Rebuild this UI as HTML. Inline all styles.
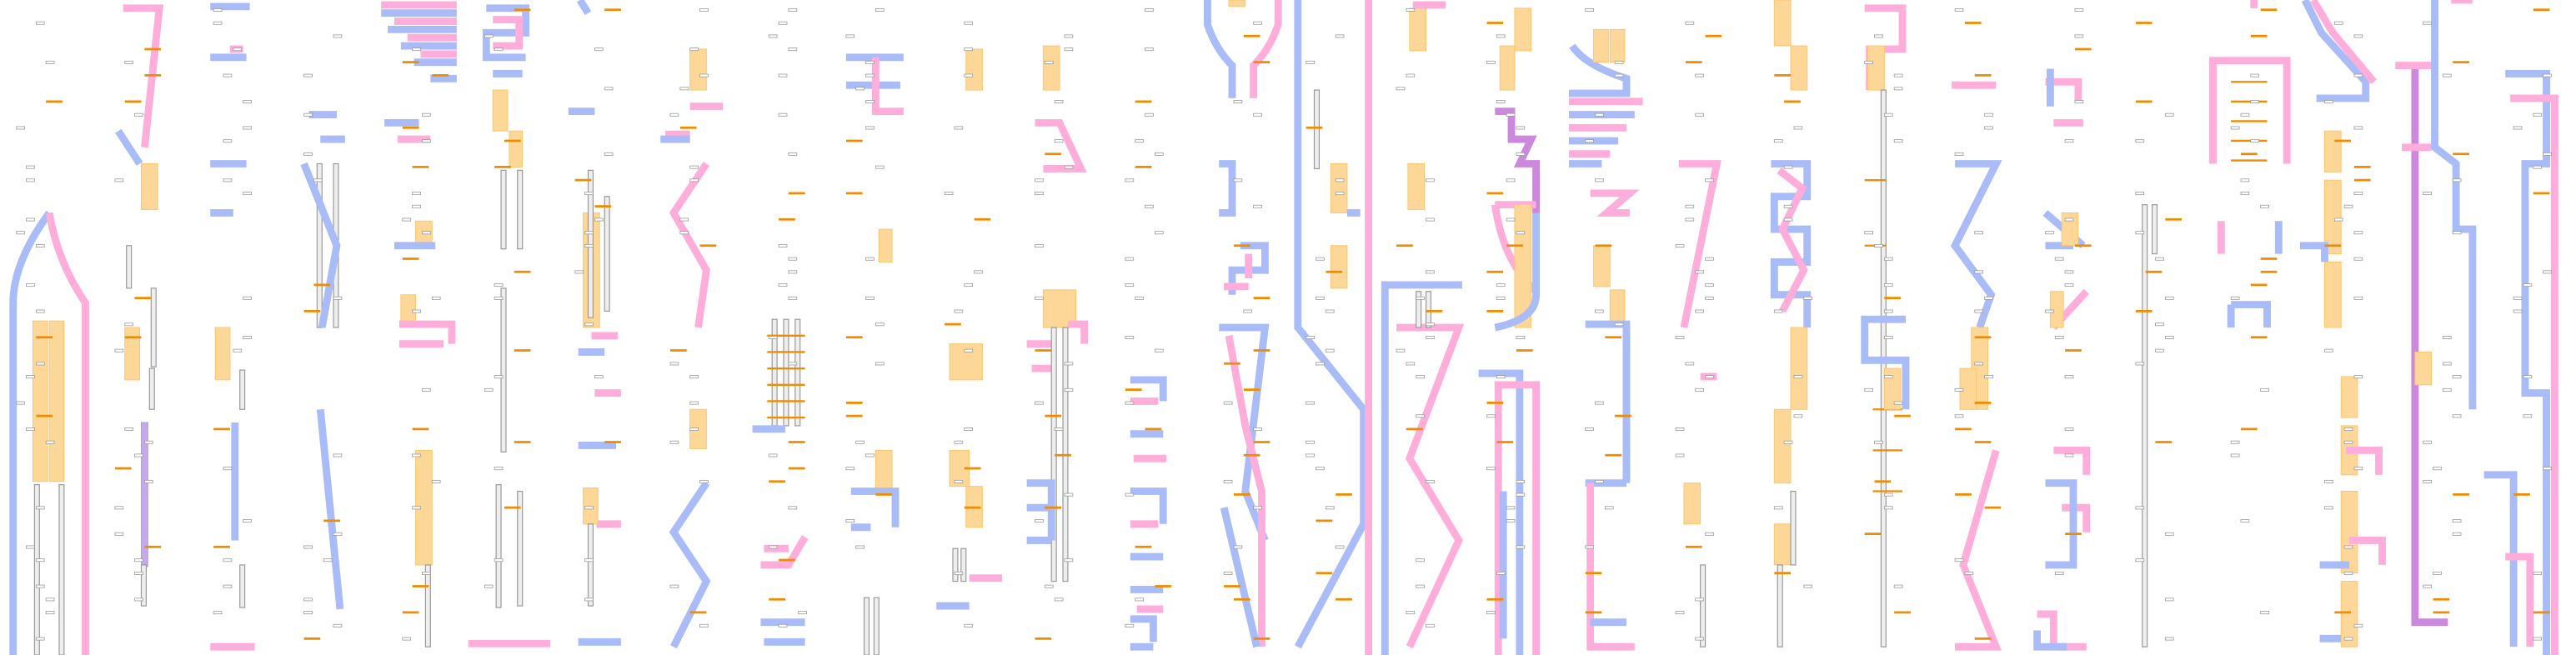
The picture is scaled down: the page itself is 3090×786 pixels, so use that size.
<!DOCTYPE html>
<html><head><meta charset="utf-8"><style>
html,body{margin:0;padding:0;background:#fff;width:3090px;height:786px;overflow:hidden}
svg{display:block}
.b{fill:none;stroke:#a9bcf7;stroke-width:4.5;stroke-linejoin:miter}
.p{fill:none;stroke:#ffaedb;stroke-width:4.5;stroke-linejoin:miter}
.m{fill:none;stroke:#cc88dd;stroke-width:4.5}
.o{fill:#fdd797;stroke:#fbc76e;stroke-width:.5}
.g{fill:#eeeeee;stroke:#999;stroke-width:.6}
.d{stroke:#f08c00;stroke-width:1.2}
.l{fill:#fff;stroke:#999;stroke-width:.5}
</style></head><body>
<svg id="s" width="3090" height="786" viewBox="0 0 1568 400" preserveAspectRatio="none" xmlns="http://www.w3.org/2000/svg">
<g id="base">
<!-- col1 -->
<path class="b" d="M30,130 Q8,160 8,185 L8,400"/>
<path class="p" d="M30,130 Q35,160 52,185 L52,400"/>
<rect class="o" x="20" y="196" width="9" height="98"/><rect class="o" x="30" y="196" width="9" height="98"/>
<rect class="g" x="21" y="296" width="3" height="104"/><rect class="g" x="36" y="296" width="3" height="104"/>
<!-- col2 -->
<path class="p" d="M75,5 L97,5 L88,90"/>
<path class="b" d="M72,80 L85,100"/>
<rect class="o" x="86" y="100" width="10" height="28"/>
<rect class="g" x="77" y="150" width="3" height="26"/><rect class="g" x="92" y="176" width="3" height="48"/>
<rect class="o" x="76" y="200" width="9" height="32"/>
<rect class="g" x="91" y="225" width="3" height="25"/>
<rect x="86" y="258" width="4" height="88" fill="#c7a9ea" stroke="#9aa8f0" stroke-width=".5"/>
<rect class="g" x="86" y="345" width="3" height="25"/>
<!-- col3 -->
<path class="b" d="M128,4 L152,4 M128,35 L150,35 M128,100 L150,100 M128,130 L142,130"/>
<path class="p" d="M140,30 L148,30"/>
<rect class="o" x="131" y="200" width="9" height="32"/>
<path class="b" d="M143,258 L143,330"/><rect class="g" x="146" y="345" width="3" height="26"/>
<rect class="g" x="146" y="226" width="3" height="24"/>
<path class="p" d="M128,395 L155,395"/>
<!-- col4 -->
<rect class="g" x="193" y="100" width="3" height="100"/><rect class="g" x="203" y="100" width="3" height="100"/>
<path class="b" d="M185,100 L205,150 L196,200"/>
<path class="b" d="M195,250 L207,372"/>
<path class="b" d="M188,70 L205,70 M195,85 L210,85"/>
<!-- col5 -->
<path class="b" d="M232,8 L278,8 M236,18 L278,18 M244,28 L278,28 M252,38 L278,38 M262,48 L278,48"/>
<path class="p" d="M232,3 L278,3 M240,13 L278,13 M248,23 L278,23 M256,33 L278,33"/>
<path class="b" d="M234,75 L255,75"/><path class="p" d="M242,85 L262,85"/>
<rect class="o" x="253" y="135" width="10" height="16"/>
<path class="b" d="M240,150 L265,150"/>
<rect class="o" x="244" y="180" width="9" height="18"/>
<path class="p" d="M243,198 L275,198 L275,210 M243,210 L270,210"/>
<rect class="o" x="253" y="275" width="10" height="70"/>
<rect class="g" x="259" y="345" width="3" height="50"/>
<path class="p" d="M285,393 L335,393"/>
<!-- col6 -->
<path class="b" d="M296,5 L320,5 L320,20 L296,20 L296,35 L320,35 M300,45 L318,45"/>
<path class="p" d="M300,12 L316,12 L316,28 L300,28"/>
<rect class="o" x="300" y="55" width="9" height="25"/><rect class="o" x="310" y="80" width="8" height="22"/>
<rect class="g" x="305" y="104" width="3" height="48"/><rect class="g" x="315" y="104" width="3" height="48"/>
<rect class="g" x="305" y="176" width="3" height="100"/><rect class="g" x="315" y="300" width="3" height="70"/>
<rect class="g" x="302" y="296" width="3" height="75"/>
<!-- col7 -->
<path class="b" d="M353,0 L358,8 M346,68 L362,68"/>
<rect class="o" x="355" y="130" width="10" height="70"/>
<rect class="g" x="358" y="104" width="3" height="90"/><rect class="g" x="368" y="120" width="3" height="70"/>
<path class="b" d="M352,215 L368,215 M352,272 L375,272 M352,392 L378,392"/>
<path class="p" d="M360,205 L376,205 M362,240 L378,240 M363,320 L378,320"/>
<rect class="o" x="355" y="298" width="9" height="22"/>
<rect class="g" x="358" y="320" width="3" height="50"/>
<!-- col8 -->
<rect class="o" x="420" y="30" width="10" height="25"/><rect class="o" x="420" y="250" width="10" height="24"/>
<path class="p" d="M420,65 L440,65 M405,82 L420,82"/>
<path class="b" d="M402,85 L420,85"/>
<path class="p" d="M430,100 L410,130 L430,165 L425,200"/>
<path class="b" d="M430,295 L410,325 L430,355 L410,395"/>
<!-- col9 ladder -->
<rect class="g" x="470" y="195" width="3" height="65"/><rect class="g" x="477" y="195" width="3" height="65"/><rect class="g" x="484" y="195" width="3" height="65"/>
<g class="d"><line x1="467" y1="205" x2="490" y2="205"/><line x1="467" y1="215" x2="490" y2="215"/><line x1="467" y1="225" x2="490" y2="225"/><line x1="467" y1="235" x2="490" y2="235"/><line x1="467" y1="245" x2="490" y2="245"/><line x1="467" y1="255" x2="490" y2="255"/></g>
<path class="b" d="M458,262 L478,262"/>
<path class="p" d="M463,345 L480,345 L490,328 M465,335 L480,335"/>
<path class="b" d="M463,380 L490,380 M465,392 L490,392"/>
<!-- col10 -->
<path class="b" d="M515,35 L550,35 M515,52 L548,52"/>
<path class="p" d="M533,35 L533,68 L550,68"/>
<rect class="o" x="535" y="140" width="8" height="20"/>
<rect class="o" x="533" y="275" width="10" height="25"/>
<path class="b" d="M518,300 L545,300 L545,322 M518,322 L530,322"/>
<rect class="g" x="526" y="365" width="3" height="35"/><rect class="g" x="532" y="365" width="3" height="35"/>
<!-- col11 -->
<rect class="o" x="588" y="30" width="10" height="25"/>
<rect class="o" x="578" y="210" width="20" height="22"/>
<rect class="o" x="578" y="275" width="12" height="22"/><rect class="o" x="588" y="297" width="10" height="25"/>
<rect class="g" x="580" y="335" width="3" height="20"/><rect class="g" x="585" y="335" width="3" height="20"/>
<path class="p" d="M590,353 L610,353"/>
<path class="b" d="M570,370 L590,370"/>
<!-- col12 -->
<rect class="o" x="635" y="28" width="10" height="27"/>
<path class="p" d="M630,75 L645,75 L658,103 L635,103"/>
<rect class="o" x="635" y="177" width="20" height="23"/>
<path class="p" d="M625,210 L640,210 M650,198 L660,198 L660,210 M628,225 L640,225"/>
<rect class="g" x="640" y="200" width="3" height="155"/><rect class="g" x="647" y="200" width="3" height="155"/>
<path class="b" d="M625,295 L640,295 L640,330 M625,310 L640,310 M625,330 L640,330"/>
<!-- col13 -->
<path class="b" d="M688,232 L708,232 L708,245 M688,265 L708,265 M688,300 L708,300 L708,320 M688,340 L708,340 M688,360 L708,360 M688,378 L702,378 L702,392 M688,395 L702,395"/>
<path class="p" d="M688,245 L705,245 M690,280 L710,280 M688,320 L705,320 M692,372 L708,372"/>
<!-- col14 -->
<path class="b" d="M735,0 L735,15 Q740,30 750,40 L750,60"/>
<path class="p" d="M778,0 L778,15 Q773,30 763,40 L763,60"/>
<path class="b" d="M742,100 L750,100 L750,130 L742,130 M755,150 L770,150 L770,165 L750,165 L750,180"/>
<path class="p" d="M760,155 L760,170 M745,175 L760,175"/>
<rect class="o" x="748" y="0" width="10" height="4"/>
<path class="b" d="M742,200 L770,200 L758,300 L770,330"/>
<path class="p" d="M748,205 L758,260 L768,300 L768,395"/>
<path class="b" d="M745,310 L765,395"/>
<!-- col15 -->
<path class="b" d="M790,0 L790,200 L830,250 L830,320 L790,395"/>
<path class="p" d="M833,0 L833,400"/>
<rect class="g" x="800" y="55" width="3" height="48"/>
<rect class="o" x="810" y="100" width="10" height="30"/><rect class="o" x="810" y="150" width="10" height="26"/>
<path class="b" d="M820,130 L828,130"/>
<!-- col16 -->
<path class="b" d="M843,400 L843,174 L890,174"/>
<path class="p" d="M850,200 L888,200 L858,280 L888,330 L858,395"/>
<rect class="o" x="858" y="5" width="10" height="26"/><rect class="o" x="857" y="100" width="10" height="28"/>
<rect class="g" x="862" y="178" width="3" height="22"/><rect class="g" x="868" y="178" width="3" height="22"/>
<path class="p" d="M860,3 L880,3"/>
<!-- col17 -->
<rect class="o" x="922" y="5" width="10" height="26"/><rect class="o" x="913" y="28" width="9" height="27"/>
<path class="m" d="M910,68 L920,68 L920,85 L932,85 L925,100 L935,100 L935,130"/>
<path class="p" d="M910,125 L935,125 M910,125 Q915,160 935,178"/>
<rect class="o" x="922" y="125" width="10" height="75"/>
<path class="b" d="M935,130 L935,180 Q935,195 910,200"/>
<path class="b" d="M900,228 L925,228 L925,400"/>
<path class="p" d="M912,400 L912,235 L935,235 L935,400"/>
<path class="b" d="M915,300 L915,390"/>
<!-- col18 -->
<path class="b" d="M957,28 Q965,40 990,48 L990,57 L955,57"/>
<rect class="o" x="970" y="18" width="9" height="20"/><rect class="o" x="980" y="18" width="9" height="20"/>
<path class="p" d="M955,62 L1000,62 M955,78 L990,78 M955,94 L980,94"/>
<path class="b" d="M955,70 L995,70 M955,86 L985,86 M955,100 L975,100"/>
<path class="p" d="M968,118 L992,118 L978,130 L992,130"/>
<rect class="o" x="970" y="150" width="10" height="25"/><rect class="o" x="980" y="177" width="9" height="23"/>
<path class="b" d="M965,198 L990,198 L990,295 M965,295 L990,295"/>
<path class="p" d="M968,295 L968,395 L995,395"/>
<path class="b" d="M968,380 L990,380"/>
<!-- col19 -->
<path class="p" d="M1022,100 L1045,100 L1025,200"/>
<rect class="o" x="1025" y="295" width="10" height="25"/>
<rect class="g" x="1035" y="345" width="3" height="50"/>
<path class="p" d="M1035,230 L1045,230"/>
<!-- col20 -->
<rect class="o" x="1080" y="0" width="10" height="28"/><rect class="o" x="1090" y="28" width="10" height="27"/>
<path class="b" d="M1078,100 L1100,100 L1100,120 L1080,120 L1080,140 L1100,140 L1100,160 L1080,160 L1080,180 L1100,180 L1100,200"/>
<path class="p" d="M1083,104 L1097,115 L1085,140 L1098,165 L1085,190"/>
<rect class="o" x="1090" y="200" width="10" height="50"/>
<rect class="o" x="1080" y="250" width="10" height="45"/><rect class="o" x="1080" y="320" width="10" height="25"/>
<rect class="g" x="1082" y="345" width="3" height="50"/><rect class="g" x="1090" y="300" width="3" height="45"/>
<!-- col21 -->
<path class="p" d="M1135,5 L1158,5 L1158,30 L1138,30 L1138,55"/>
<rect class="o" x="1137" y="28" width="10" height="27"/>
<rect class="g" x="1145" y="55" width="3" height="340"/>
<g class="d"><line x1="1135" y1="110" x2="1148" y2="110"/><line x1="1135" y1="150" x2="1148" y2="150"/><line x1="1140" y1="250" x2="1158" y2="250"/><line x1="1140" y1="275" x2="1158" y2="275"/><line x1="1140" y1="300" x2="1158" y2="300"/></g>
<path class="b" d="M1160,195 L1135,195 L1135,220 L1160,220 L1160,250"/>
<rect class="o" x="1147" y="225" width="10" height="25"/>
<!-- col22 -->
<path class="p" d="M1188,52 L1215,52"/>
<path class="b" d="M1190,100 L1215,100 L1190,150 L1212,180 L1205,200"/>
<rect class="o" x="1200" y="200" width="10" height="50"/><rect class="o" x="1193" y="225" width="10" height="25"/>
<path class="p" d="M1215,275 L1195,345 L1215,395 L1190,395"/>
<!-- col23 -->
<path class="p" d="M1245,50 L1265,50 L1265,62 M1250,75 L1268,75"/>
<path class="b" d="M1248,42 L1248,65"/>
<path class="b" d="M1245,130 L1268,150 M1245,150 L1262,150"/>
<rect class="o" x="1255" y="130" width="10" height="20"/>
<path class="p" d="M1250,200 L1270,178"/>
<rect class="o" x="1248" y="178" width="8" height="22"/>
<path class="p" d="M1250,275 L1270,275 L1270,290 M1255,310 L1270,310 L1270,325"/>
<path class="b" d="M1245,295 L1262,295 L1262,345 L1245,345"/>
<path class="p" d="M1240,375 L1250,375 L1250,395 L1270,395"/>
<path class="b" d="M1240,385 L1240,395 L1258,395"/>
<!-- col24 -->
<rect class="g" x="1304" y="125" width="3" height="270"/><rect class="g" x="1310" y="125" width="3" height="30"/>
<!-- col25 -->
<path class="p" d="M1347,100 L1347,37 L1392,37 L1392,100"/>
<g class="d"><line x1="1358" y1="50" x2="1380" y2="50"/><line x1="1358" y1="62" x2="1380" y2="62"/><line x1="1358" y1="74" x2="1380" y2="74"/><line x1="1358" y1="86" x2="1380" y2="86"/><line x1="1358" y1="98" x2="1380" y2="98"/></g>
<path class="p" d="M1352,135 L1352,155"/><path class="b" d="M1387,135 L1387,155"/>
<path class="b" d="M1358,186 L1380,186 L1380,200 M1358,186 L1358,200"/>
<path class="p" d="M1372,0 L1372,5"/>
<!-- col26 -->
<path class="b" d="M1403,0 L1413,20 L1440,50 L1440,60 L1410,60"/>
<path class="p" d="M1408,0 L1420,20 L1445,50"/>
<rect class="o" x="1415" y="80" width="10" height="25"/><rect class="o" x="1415" y="110" width="10" height="45"/><rect class="o" x="1415" y="160" width="10" height="40"/>
<path class="b" d="M1400,150 L1415,150 L1415,160"/>
<rect class="o" x="1425" y="230" width="10" height="25"/><rect class="o" x="1425" y="260" width="10" height="30"/><rect class="o" x="1425" y="300" width="10" height="50"/><rect class="o" x="1425" y="355" width="10" height="40"/>
<path class="p" d="M1428,275 L1448,275 L1448,290 M1430,330 L1450,330 L1450,345"/>
<path class="b" d="M1412,345 L1430,345 M1412,390 L1425,390"/>
<!-- col27 -->
<path class="m" d="M1470,40 L1470,380 L1490,380"/>
<path class="p" d="M1458,40 L1482,40 M1462,90 L1480,90"/>
<path class="b" d="M1482,0 L1482,90 L1495,100 L1495,140 L1505,140 L1505,250"/>
<rect class="o" x="1470" y="215" width="10" height="20"/>
<path class="p" d="M1492,0 L1505,0"/>
<!-- col28 -->
<path class="b" d="M1525,45 L1550,45 L1550,100 L1537,100 L1537,240 L1550,240 L1550,400"/>
<path class="p" d="M1528,60 L1555,60 L1555,400"/>
<path class="b" d="M1512,290 L1530,290 L1530,395"/>
<path class="p" d="M1525,340 L1540,340 L1540,395"/>
</g>
<g id="lab"></g>
</svg>
<script>
(function(){
var s=12345;function r(){s=(s*1103515245+12345)%2147483648;return s/2147483648;}
var cols=[20,80,140,195,255,305,360,418,478,525,585,640,695,755,805,860,915,975,1030,1090,1145,1200,1255,1310,1368,1425,1485,1540];
var g=document.getElementById('lab'),ns='http://www.w3.org/2000/svg',h='';
cols.forEach(function(c){
 for(var y=6;y<398;y+=8){
  if(r()<0.45){var x=c-10+Math.floor(r()*4)*6;
   if(r()<0.25) h+='<line x1="'+x+'" y1="'+y+'" x2="'+(x+10)+'" y2="'+y+'" stroke="#f08c00" stroke-width="1.4"/>';
   else h+='<rect x="'+x+'" y="'+(y-0.7)+'" width="5" height="1.6" fill="#fff" stroke="#999" stroke-width=".4"/>';}
 }});
g.innerHTML=h;
})();
</script>
</body></html>
